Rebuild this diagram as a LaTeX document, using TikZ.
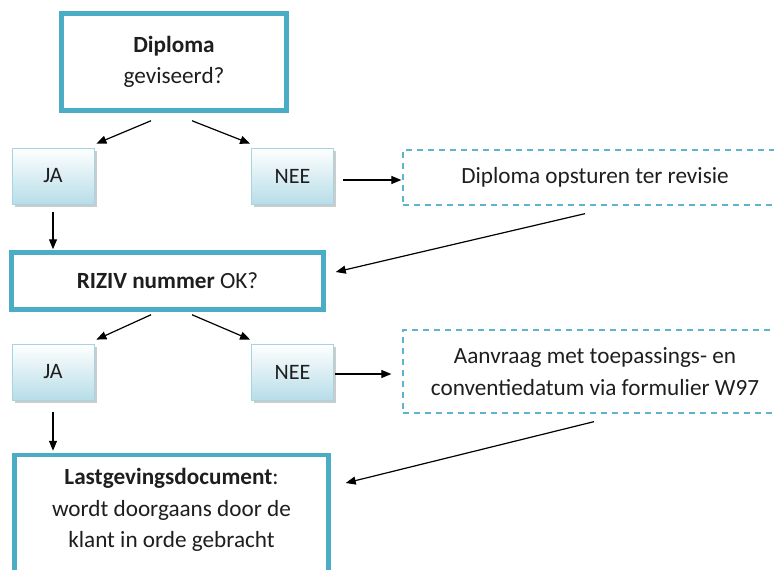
\documentclass[tikz,border=0pt]{standalone}
\usepackage{fontspec}
\setmainfont{Carlito}
\usetikzlibrary{arrows.meta,shadows,calc}
\definecolor{acc}{HTML}{4BACC6}
\definecolor{lite}{HTML}{B7DDE8}
\definecolor{litebd}{HTML}{A5D5E2}
\definecolor{txt}{HTML}{1E1E1E}
\begin{document}
\begin{tikzpicture}[x=1pt,y=-1pt,
  bigbox/.style={draw=acc, line width=4.5pt, fill=white, align=center, inner sep=0pt,
    text=txt, font=\fontsize{23.2}{31.5}\selectfont},
  yesno/.style={draw=litebd, line width=0.8pt, top color=white, bottom color=lite,
    minimum width=82pt, minimum height=56pt, inner sep=0pt, text=txt,
    font=\fontsize{22}{26}\selectfont,
    drop shadow={shadow xshift=2.5pt, shadow yshift=-2.5pt, fill=black!40, opacity=0.5}},
  dashbox/.style={draw=acc!90, dash pattern=on 6pt off 5pt, line width=1.3pt,
    align=center, inner sep=0pt, text=txt, font=\fontsize{23.2}{31.5}\selectfont},
  arr/.style={-{Triangle[length=10pt,width=8pt]}, line width=1.2pt, draw=black}]
\useasboundingbox (0,0) rectangle (774,570);
\clip (0,0) rectangle (774,570);
% main boxes
\node[bigbox, minimum width=225pt, minimum height=97pt] (dip) at (174,62)
  {\textbf{Diploma}\\geviseerd?};
\node[bigbox, minimum width=312pt, minimum height=57pt] (riz) at (167.5,281)
  {\textbf{RIZIV nummer} OK?};
\node[bigbox, minimum width=314pt, minimum height=130pt] (last) at (171.5,520) {};
\node[align=center, text=txt, font=\fontsize{23.2}{31.5}\selectfont, inner sep=0pt] (lasttxt) at (171.5,510)
  {\textbf{Lastgevingsdocument}:\\wordt doorgaans door de\\klant in orde gebracht};
% yes/no boxes
\node[yesno] (ja1) at (53,176) {JA};
\node[yesno] (nee1) at (292.5,176) {NEE};
\node[yesno] (ja2) at (53,372) {JA};
\node[yesno] (nee2) at (292.5,372) {NEE};
% dashed boxes
\node[dashbox, minimum width=384pt, minimum height=55pt] (d1) at (595,177.5)
  {Diploma opsturen ter revisie};
\node[dashbox, minimum width=384pt, minimum height=83pt] (d2) at (595,371.5)
  {Aanvraag met toepassings- en\\conventiedatum via formulier W97};
% connector end points
\coordinate (dipL) at ($(dip.south)+(-23,8)$);
\coordinate (dipR) at ($(dip.south)+(18,8)$);
\coordinate (rizL) at ($(riz.south)+(-16.5,3)$);
\coordinate (rizR) at ($(riz.south)+(24.5,3)$);
\coordinate (d1s) at ($(d1.south)+(-10,8)$);
\coordinate (d2s) at ($(d2.south)+(-1,8)$);
\coordinate (ja1s) at ($(ja1.south)+(0,8)$);
\coordinate (ja2s) at ($(ja2.south)+(0,12)$);
% connectors
\draw[arr] (dipL) -- ($(ja1.north east)+(2,-4)$);
\draw[arr] (dipR) -- ($(nee1.north west)+(-1,-4)$);
\draw[arr] ($(nee1.east)+(9,4)$) -- ($(d1.west)+(-1,2.5)$);
\draw[arr] (ja1s) -- ($(ja1s |- riz.north)+(0,-1)$);
\draw[arr] (d1s) -- ($(riz.east)+(10,-9)$);
\draw[arr] (rizL) -- ($(ja2.north east)+(2,-4)$);
\draw[arr] (rizR) -- ($(nee2.north west)+(-1,-4)$);
\draw[arr] ($(nee2.east)+(1,2)$) -- ($(d2.west)+(-11,2.5)$);
\draw[arr] (ja2s) -- ($(ja2s |- last.north)+(0,-2)$);
\draw[arr] (d2s) -- ($(last.east)+(15,-37)$);
\end{tikzpicture}
\end{document}
